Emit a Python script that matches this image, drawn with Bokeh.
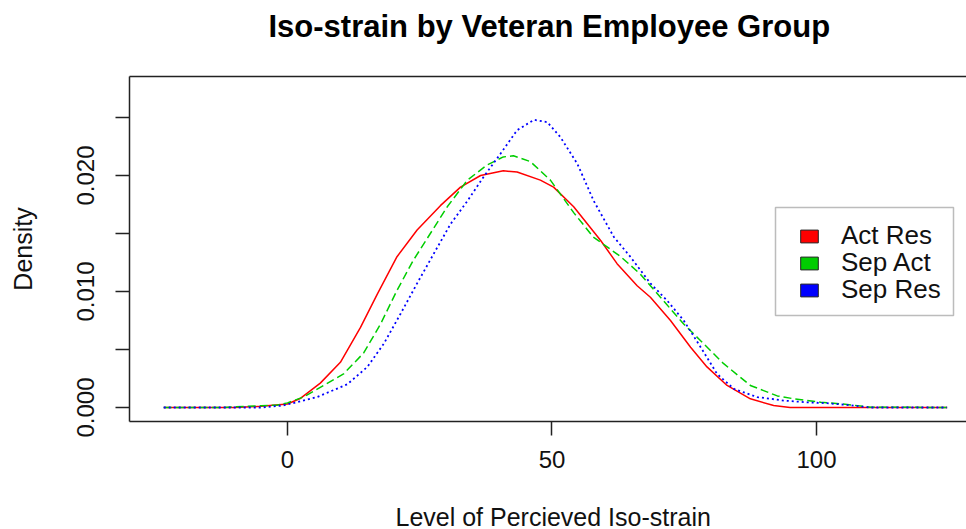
from bokeh.plotting import figure
from bokeh.models import (Range1d, FixedTicker, LinearAxis, Legend, LegendItem,
                          BoxAnnotation, Title)
from bokeh.embed import file_html
from bokeh.resources import INLINE

# ---------------- data ----------------
series_names = ["Act Res", "Sep Act", "Sep Res"]
series_colors = ["#FF0000", "#00CD00", "#0000FF"]

act_res_x = [-23.4, -10, -5, 0, 2.5, 6.2, 10, 13.8, 17, 20.7, 24.5, 28.9, 32.7,
             36.5, 40.8, 43.4, 47.8, 50.3, 54.1, 59.2, 62.3, 66.1, 68.6, 72.4,
             76.2, 79.3, 83.1, 87.5, 91.9, 95, 110, 124.7]
act_res_y = [0, 0, 0.0001, 0.0003, 0.0008, 0.0021, 0.0039, 0.0069, 0.0098,
             0.0130, 0.0153, 0.0174, 0.0190, 0.0200, 0.0204, 0.0203, 0.0196,
             0.0190, 0.0173, 0.0144, 0.0124, 0.0105, 0.0095, 0.0075, 0.0052,
             0.0035, 0.0019, 0.00075, 0.00017, 0, 0, 0]

sep_act_x = [-23.4, -12, -8, -5, -2, 0, 3, 6.8, 10.6, 14.4, 17.6, 20.7, 23.8,
             27, 30.2, 34, 37.7, 40.8, 42.7, 45.9, 49.7, 54.1, 57.8, 63, 66.7,
             70.5, 74.9, 78, 82.4, 87.5, 92.6, 95.7, 100.8, 105.8, 110.2, 124.7]
sep_act_y = [0, 0, 0.0001, 0.00015, 0.0002, 0.0004, 0.0009, 0.0019, 0.0029,
             0.0047, 0.0072, 0.0101, 0.0127, 0.0150, 0.0173, 0.0196, 0.0209,
             0.0216, 0.0217, 0.0212, 0.0196, 0.0168, 0.0147, 0.0130, 0.0115,
             0.0095, 0.0072, 0.0058, 0.0038, 0.0019, 0.0010, 0.00075, 0.00046,
             0.00026, 0.00003, 0]

sep_res_x = [-23.4, -5, -0.8, 5.6, 11.3, 15.1, 18.2, 21.4, 24.5, 27.7, 30.8, 34,
             37.1, 40.3, 43.4, 46.6, 49.1, 51.6, 54.8, 57.9, 61.7, 64.8, 68.6,
             71.8, 74.9, 78.1, 81.2, 84.4, 88.8, 93.8, 98, 102, 107, 110, 124.7]
sep_res_y = [0, 0, 0.00017, 0.0009, 0.0020, 0.0035, 0.0055, 0.0081, 0.0107,
             0.0133, 0.0158, 0.0178, 0.0199, 0.0219, 0.0239, 0.0248, 0.0246,
             0.0233, 0.0210, 0.0178, 0.0147, 0.0130, 0.0107, 0.0092, 0.0075,
             0.0052, 0.0029, 0.0016, 0.0009, 0.0006, 0.00045, 0.00037, 0.00017,
             0, 0]

x_ticks = [0, 50, 100]
y_ticks = [0, 0.005, 0.01, 0.015, 0.02, 0.025]
y_tick_labels = ["0.000", "", "0.010", "", "0.020", ""]

title_text = "Iso-strain by Veteran Employee Group"
x_title = "Level of Percieved Iso-strain"
y_title = "Density"

# ---------------- figure ----------------
FONT = "Liberation Sans"
AX = "#222222"
TXT = "#111111"
NAN = float("nan")

p = figure(width=966, height=529, output_backend="svg", toolbar_location=None,
           x_range=Range1d(-29.87, 128.36), y_range=Range1d(-0.001207, 0.028534),
           min_border_left=129, min_border_right=0, min_border_top=76,
           min_border_bottom=108)
p.xgrid.visible = False
p.ygrid.visible = False
p.outline_line_color = None

p.title.text = title_text
p.title.align = "left"
p.title.offset = 139
p.title.standoff = 2
p.title.text_font = FONT
p.title.text_font_size = "31px"
p.title.text_font_style = "bold"
p.title.text_color = "#000000"

xa = p.xaxis[0]
xa.ticker = FixedTicker(ticks=x_ticks)
xa.major_tick_out = 14
xa.major_tick_in = 0
xa.minor_tick_out = 0
xa.minor_tick_in = 0
xa.axis_line_color = AX
xa.axis_line_width = 1.5
xa.major_tick_line_color = AX
xa.major_tick_line_width = 1.5
xa.major_label_standoff = 15
xa.major_label_text_font = FONT
xa.major_label_text_font_size = "24px"
xa.major_label_text_color = TXT

ya = p.yaxis[0]
ya.ticker = FixedTicker(ticks=y_ticks)
ya.major_label_overrides = {t: l for t, l in zip(y_ticks, y_tick_labels)}
ya.major_label_orientation = "vertical"
ya.major_tick_out = 14
ya.major_tick_in = 0
ya.minor_tick_out = 0
ya.minor_tick_in = 0
ya.axis_line_color = AX
ya.axis_line_width = 1.5
ya.major_tick_line_color = AX
ya.major_tick_line_width = 1.5
ya.major_label_standoff = 21
ya.major_label_text_font = FONT
ya.major_label_text_font_size = "24px"
ya.major_label_text_color = TXT
ya.axis_label = y_title
ya.axis_label_text_font = FONT
ya.axis_label_text_font_size = "25px"
ya.axis_label_text_font_style = "normal"
ya.axis_label_text_color = TXT
ya.axis_label_standoff = 38

# top border of the box; an invisible tick reserves room under the title
top = LinearAxis(ticker=FixedTicker(ticks=x_ticks[:1]), axis_line_color=AX,
                 axis_line_width=1.5, major_tick_out=32, major_tick_in=0,
                 major_tick_line_alpha=0.0,
                 minor_tick_out=0, minor_tick_in=0, major_label_standoff=0,
                 major_label_overrides={x_ticks[0]: ""})
p.add_layout(top, "above")

# invisible spacer below the x axis, then the x-axis title
spacer = LinearAxis(ticker=FixedTicker(ticks=x_ticks[:1]), axis_line_alpha=0.0,
                    major_tick_out=40, major_tick_in=0, major_tick_line_alpha=0.0,
                    minor_tick_out=0, minor_tick_in=0, major_label_standoff=0,
                    major_label_overrides={x_ticks[0]: ""})
p.add_layout(spacer, "below")
p.add_layout(Title(text=x_title, align="left", offset=266, standoff=-20,
                   text_font=FONT, text_font_size="25px",
                   text_font_style="normal", text_color=TXT), "below")

# ---------------- curves ----------------
r1 = p.line(act_res_x, act_res_y, line_color=series_colors[0], line_width=1.5)
r2 = p.line(sep_act_x, sep_act_y, line_color=series_colors[1], line_width=1.5,
            line_dash="8 4")
r3 = p.line(sep_res_x, sep_res_y, line_color=series_colors[2], line_width=1.8,
            line_dash="2 3")

# legend swatches (not drawn in the plot area, only shown in the legend)
swatches = [p.quad(left=[NAN], right=[NAN], top=[NAN], bottom=[NAN],
                   fill_color=c, line_color="#222222", line_width=1)
            for c in series_colors]

box = BoxAnnotation(left=646, right=824, bottom=106, top=214,
                    left_units="screen", right_units="screen",
                    bottom_units="screen", top_units="screen",
                    fill_color="white", fill_alpha=1.0,
                    line_color=AX, line_width=1.5)
p.add_layout(box)

# one legend per row so that the row pitch matches the reference
row_bottoms = [170, 143, 116]
for name, sw, yb in zip(series_names, swatches, row_bottoms):
    lg = Legend(items=[LegendItem(label=name, renderers=[sw])],
                location=(669, yb), border_line_color=None,
                background_fill_alpha=0, padding=0, margin=0, spacing=0,
                glyph_width=22, glyph_height=16, label_height=20,
                label_standoff=21, label_text_font=FONT,
                label_text_font_size="26px", label_text_color=TXT)
    p.add_layout(lg)

open("out.html", "w").write(file_html(p, INLINE))
